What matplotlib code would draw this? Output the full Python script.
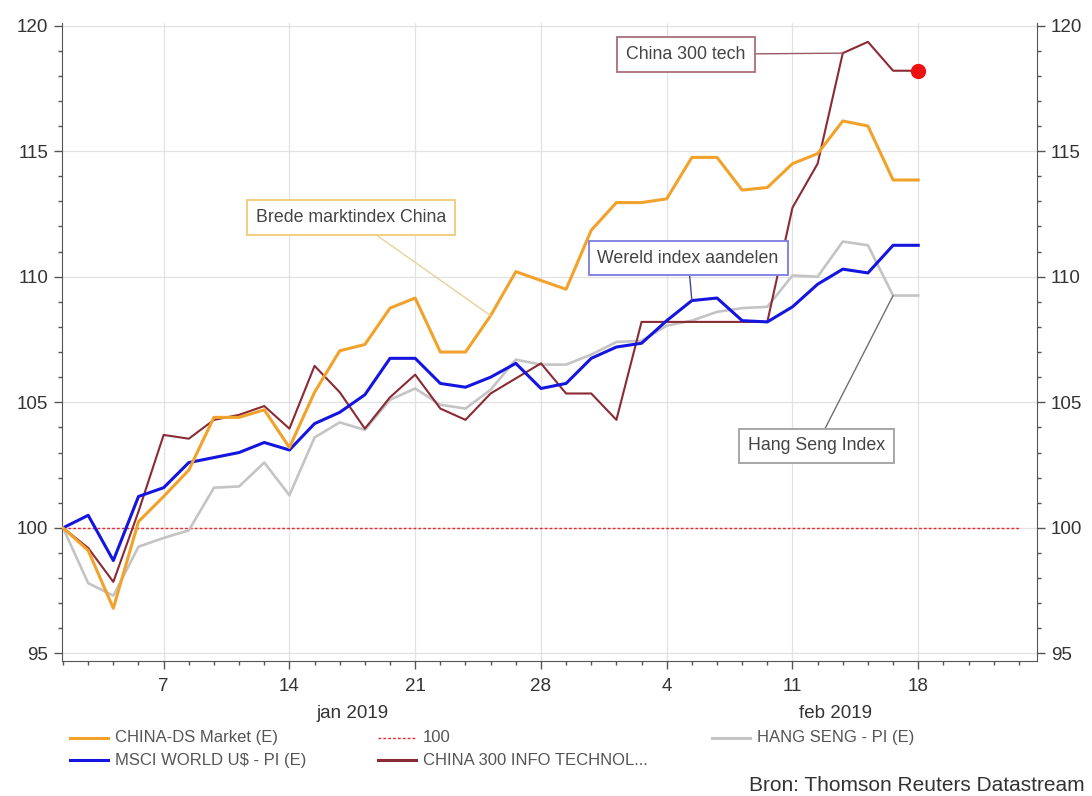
import numpy as np
import matplotlib
matplotlib.use("Agg")
import matplotlib.pyplot as plt
from matplotlib.lines import Line2D
from matplotlib.ticker import MultipleLocator, FixedLocator

plt.rcParams['font.family'] = ['Liberation Sans', 'DejaVu Sans']

# business days jan 1 .. feb 18 2019 (index 0..34)
china_ds = [100, 99.1, 96.8, 100.25, 101.25, 102.3, 104.4, 104.4, 104.7, 103.2,
            105.4, 107.05, 107.3, 108.75, 109.15, 107.0, 107.0, 108.45, 110.2, 109.85,
            109.5, 111.85, 112.95, 112.95, 113.1, 114.75, 114.75, 113.45, 113.55, 114.5,
            114.9, 116.2, 116.0, 113.85, 113.85]
msci = [100, 100.5, 98.7, 101.25, 101.6, 102.6, 102.8, 103.0, 103.4, 103.1,
        104.15, 104.6, 105.3, 106.75, 106.75, 105.75, 105.6, 106.0, 106.55, 105.55,
        105.75, 106.75, 107.2, 107.35, 108.25, 109.05, 109.15, 108.25, 108.2, 108.8,
        109.7, 110.3, 110.15, 111.25, 111.25]
hang_seng = [100, 97.8, 97.3, 99.25, 99.6, 99.9, 101.6, 101.65, 102.6, 101.3,
             103.6, 104.2, 103.9, 105.1, 105.55, 104.9, 104.75, 105.5, 106.7, 106.5,
             106.5, 106.9, 107.4, 107.45, 108.05, 108.25, 108.6, 108.75, 108.8, 110.05,
             110.0, 111.4, 111.25, 109.25, 109.25]
china300 = [100, 99.2, 97.85, 100.65, 103.7, 103.55, 104.3, 104.5, 104.85, 103.95,
            106.45, 105.4, 103.95, 105.2, 106.1, 104.75, 104.3, 105.35, 105.95, 106.55,
            105.35, 105.35, 104.3, 108.2, 108.2, 108.2, 108.2, 108.2, 108.2, 112.75,
            114.5, 118.9, 119.35, 118.2, 118.2]
hundred = [100] * 39

tick_pos = [4, 9, 14, 19, 24, 29, 34]
tick_labels = ['7', '14', '21', '28', '4', '11', '18']
month_labels = ['jan 2019', 'feb 2019']
month_pos = [11.5, 30.7]

c_orange = '#f2a22a'
c_blue = '#1515e0'
c_gray = '#c4c4c4'
c_maroon = '#8a2a34'
c_red = '#e8282c'
txt = '#333333'

fig = plt.figure(figsize=(10.92, 7.96), dpi=100)
ax = fig.add_axes([0.0568, 0.1696, 0.8928, 0.8015])

x = np.arange(len(china_ds))
ax.plot(np.arange(len(hundred)), hundred, color=c_red, lw=1.0, ls=(0, (2, 1.5)), zorder=2)
ax.plot(x, hang_seng, color=c_gray, lw=1.9, zorder=3)
ax.plot(x, china300, color=c_maroon, lw=1.5, zorder=4)
ax.plot(x, msci, color=c_blue, lw=2.2, zorder=5)
ax.plot(x, china_ds, color=c_orange, lw=2.2, zorder=5)
ax.plot(x[-1], china300[-1], 'o', color='#ee1111', ms=10, zorder=6)

ax.set_xlim(-0.04, 38.72)
ax.set_ylim(94.7, 120.1)

ax.xaxis.set_major_locator(FixedLocator(tick_pos))
ax.set_xticklabels(tick_labels)
ax.xaxis.set_minor_locator(MultipleLocator(1))
ax.yaxis.set_major_locator(MultipleLocator(5))
ax.yaxis.set_minor_locator(MultipleLocator(1))
ax.tick_params(which='major', direction='out', length=6, width=1, color='#555555',
               labelsize=13.5, labelcolor=txt, pad=6)
ax.tick_params(axis='y', which='major', pad=4)
ax.tick_params(which='minor', direction='out', length=3, width=1, color='#555555')
ax.tick_params(axis='y', which='both', right=True, labelright=True)
ax.grid(True, which='major', color='#e2e2e2', lw=0.9)
ax.set_axisbelow(True)
ax.spines['top'].set_visible(False)
for s in ['left', 'right', 'bottom']:
    ax.spines[s].set_color('#555555')

for lab, p in zip(month_labels, month_pos):
    ax.text(p, -0.082, lab, transform=ax.get_xaxis_transform(), ha='center', va='center',
            fontsize=13.5, color=txt)

def note(text, xy, xytext, ec, lc):
    ax.annotate(text, xy=xy, xytext=xytext, ha='center', va='center', fontsize=12.8,
                color='#444444', zorder=7,
                bbox=dict(boxstyle='square,pad=0.5', fc='white', ec=ec, lw=1.3),
                arrowprops=dict(arrowstyle='-', color=lc, lw=1.0, shrinkA=0, shrinkB=0))

note('China 300 tech', (31, china300[31]), (24.77, 118.85), '#a8707a', '#9a5a64')
note('Brede marktindex China', (17, china_ds[17]), (11.45, 112.37), '#f0cc78', '#e8d29a')
note('Wereld index aandelen', (25, msci[25]), (24.85, 110.74), '#7c7ce0', '#404890')
note('Hang Seng Index', (33, hang_seng[33]), (29.94, 103.26), '#a0a0a0', '#707070')

# legend
leg = [
    (0.0641, 0.0729, c_orange, '-', 'CHINA-DS Market (E)'),
    (0.0641, 0.0452, c_blue, '-', 'MSCI WORLD U$ - PI (E)'),
    (0.3462, 0.0729, c_red, (0, (2, 1.5)), '100'),
    (0.3462, 0.0452, c_maroon, '-', 'CHINA 300 INFO TECHNOL...'),
    (0.6520, 0.0729, c_gray, '-', 'HANG SENG - PI (E)'),
]
for lx, ly, col, ls, lab in leg:
    lw = 1.0 if lab == '100' else 2.2
    fig.add_artist(Line2D([lx, lx + 0.035], [ly, ly], color=col, ls=ls, lw=lw,
                          transform=fig.transFigure))
    fig.text(lx + 0.041, ly, lab, ha='left', va='center', fontsize=12, color='#555555')

fig.text(0.9935, 0.0135, 'Bron: Thomson Reuters Datastream', ha='right', va='center',
         fontsize=15, color=txt)

fig.savefig('out.png', dpi=100)
